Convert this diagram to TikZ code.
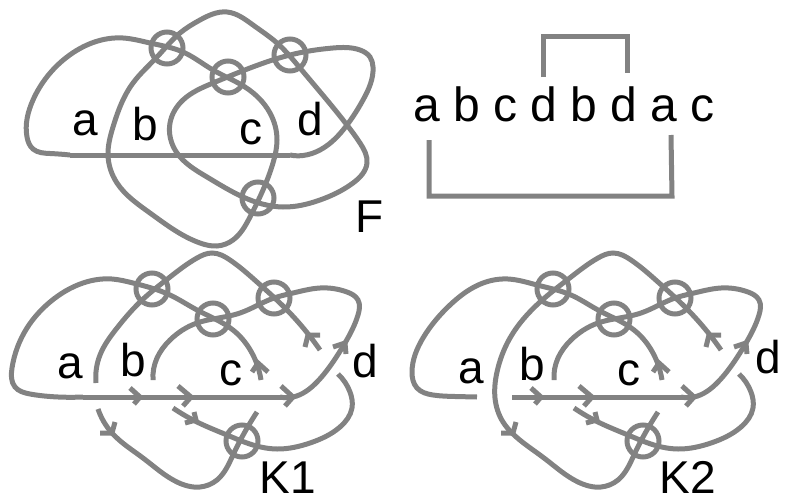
\documentclass[tikz,border=0pt]{standalone}
\usepackage{fontspec}
\setmainfont{Liberation Sans}
\usetikzlibrary{hobby}
\tikzset{strand/.style={draw=knotgray,line width=5pt},
  letter/.style={anchor=base,inner sep=0pt,font=\fontsize{46}{50}\selectfont}}
\definecolor{knotgray}{HTML}{828282}
\newcommand{\barb}[3]{\draw[strand] #1 -- #2 -- #3;}

\begin{document}
\begin{tikzpicture}[x=1pt,y=-1pt]
\useasboundingbox (0,0) rectangle (785,498);
\draw [strand,use Hobby shortcut] (70,155)..(50,153.5)..(33,149)..(27,137)..(33,100)..(67,57)..(123,38)..(150,43)..(183,52)..(213,70)..(245,87)..(270,113)..(277,140)..(273,163)..(263,190)..(250,217)..(233,240)..(217,246)..(200,243)..(150,213)..(117,183)..(108,155)..(113,127)..(133,83)..(157,57)..(180,33)..(200,20)..(227,12)..(253,25)..(277,43)..(300,68)..(347,125)..(360,143)..(367,163)..(353,183)..(320,200)..(283,207)..(243,197)..(207,177)..(177,153)..(170,123)..(183,100)..(213,83)..(250,68)..(290,55)..(333,48)..(360,50)..(370,57)..(373,67)..(363,100)..(347,125)..(320,150)..(303,155.5)..(290,155);
\draw[strand] (70,155) -- (290,155);
\foreach \cx/\cy in {167/48,228/77,290/55,258/198}
  \draw[strand] (\cx,\cy) circle (16);
\node[letter] (fa) at (85,135) {a};
\node[letter] (fb) at (145,140) {b};
\node[letter] (fc) at (251,144) {c};
\node[letter] (fd) at (310,135) {d};
\node[letter] (fname) at (370,232) {F};
\node[letter,anchor=base west,font=\fontsize{48}{50}\selectfont] (word) at (413,121) {a b c d b d a c};
\draw[strand] (543,77) -- (543,36) -- (627,36) -- (627,73);
\draw[strand] (429,140) -- (429,196) -- (672,196) -- (671,135);
\foreach \dx in {0,401} {
\begin{scope}[xshift=\dx]
\draw [strand,use Hobby shortcut] (280,397)..(293,397)..(317,382)..(333,362)..(345,343)..(358,315)..(358,300)..(347,292)..(320,288)..(293,293)..(274,298)..(240,313)..(213,319)..(197,323)..(170,340)..(157,358)..(153,380);
\draw [strand,use Hobby shortcut] (338,374)..(350,392)..(352,408)..(340,427)..(310,443)..(277,449)..(253,445)..(227,435)..(197,422)..(173,408);
\foreach \cx/\cy in {152/289,213/319,274/298,242/441}
  \draw[strand] (\cx,\cy) circle (16);
\barb{(130,388)}{(140,397)}{(134,404)}
\barb{(178,386)}{(191,397)}{(183,406)}
\barb{(281,386)}{(293,397)}{(285,406)}
\barb{(333,347)}{(345,343)}{(346,354)}
\barb{(305,347)}{(308,335)}{(320,335)}
\barb{(252,372)}{(258,363)}{(268,372)}
\barb{(185,423)}{(196,420)}{(194,412)}
\barb{(100,433)}{(112,433)}{(115,422)}
\end{scope}
}
\draw [strand,use Hobby shortcut] (261,380)..(253,355)..(233,330)..(197,310)..(170,295)..(133,283)..(112,279)..(83,283)..(50,302)..(27,328)..(12,368)..(15,387)..(30,394)..(50,396.5)..(83,397);
\draw[strand] (83,397) -- (293,397);
\draw [strand,use Hobby shortcut] (96,383)..(100,355)..(117,328)..(140,302)..(170,277)..(197,258)..(212,253)..(230,260)..(257,282)..(287,310)..(320,350);
\draw [strand,use Hobby shortcut] (98,409)..(112,433)..(143,458)..(177,482)..(200,487)..(217,480)..(233,455)..(257,412);
\node[letter] (ka) at (70,378) {a};
\node[letter] (kb) at (133,376) {b};
\node[letter] (kc) at (231,385) {c};
\node[letter] (kd) at (365,377) {d};
\node[letter] (kname) at (288,493) {K1};
\draw [strand,use Hobby shortcut] (662,380)..(654,355)..(634,330)..(598,310)..(571,295)..(537,285)..(508,279)..(483,283)..(450,305)..(423,338)..(412,372)..(417,388)..(433,395)..(455,396.5)..(477,397);
\draw[strand] (512,397) -- (694,397);
\draw [strand,use Hobby shortcut] (721,350)..(688,310)..(658,282)..(631,260)..(613,253)..(598,258)..(571,277)..(540,302)..(510,338)..(497,372)..(495,398)..(503,422)..(513,434)..(544,458)..(578,482)..(601,487)..(618,480)..(634,455)..(658,412);
\node[letter] (ma) at (471,383) {a};
\node[letter] (mb) at (532,380) {b};
\node[letter] (mc) at (629,385) {c};
\node[letter] (md) at (768,373) {d};
\node[letter] (mname) at (688,493) {K2};
\end{tikzpicture}
\end{document}
